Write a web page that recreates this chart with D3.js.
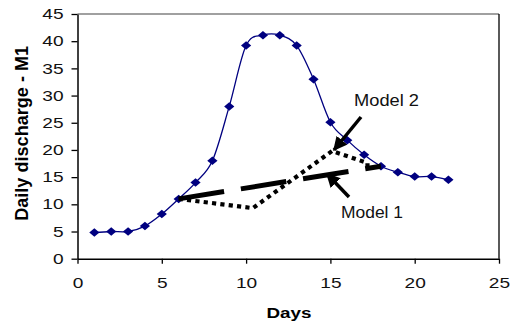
<!DOCTYPE html>
<html lang="en">
<head>
  <meta charset="UTF-8">
  <script src="https://d3js.org/d3.v7.min.js"></script>
  <title>Daily discharge</title>
  <style>
    body { margin: 0; padding: 0; background: #fff; }
    text { font-family: "Liberation Sans", Arial, sans-serif; }
  </style>
</head>
<body>
  <div id="chart"></div>
  <script>
    // observed discharge (M1)
    let days = [1, 2, 3, 4, 5, 6, 7, 8, 9, 10, 11, 12, 13, 14, 15, 16, 17, 18, 19, 20, 21, 22]
    let discharge = [4.8, 5, 5, 6, 8.2, 11, 14, 18, 28, 39.2, 41.1, 41.1, 39.2, 33, 25.1, 21.8, 19.1, 17, 15.9, 15.1, 15.1, 14.5]
    // model lines
    let model1 = [[6, 11], [18, 17]]
    let model2 = [[6, 11], [10.4, 9.3], [15.1, 19.8], [17.2, 17.6], [17.2, 16.3]]
    let xTicks = [0, 5, 10, 15, 20, 25]
    let yTicks = [0, 5, 10, 15, 20, 25, 30, 35, 40, 45]

    let width = 517, height = 329
    let margin = { left: 77.5, right: 18, top: 14, bottom: 70.3 }
    let stretch = 1.32 // the picture's text is a bit wide

    let svg = d3.select("#chart").append("svg")
      .attr("width", width)
      .attr("height", height)

    let x = d3.scaleLinear().domain([0, 25]).range([margin.left, width - margin.right])
    let y = d3.scaleLinear().domain([0, 45]).range([height - margin.bottom, margin.top])

    // plot frame (top grey, right black)
    svg.append("line")
      .attr("x1", x(0)).attr("x2", x(25)).attr("y1", y(45)).attr("y2", y(45))
      .attr("stroke", "#808080").attr("stroke-width", 1.3)
    svg.append("line")
      .attr("x1", x(25)).attr("x2", x(25)).attr("y1", y(45)).attr("y2", y(0))
      .attr("stroke", "#000").attr("stroke-width", 1.3)

    let xAxis = svg.append("g")
      .attr("transform", `translate(0,${y(0)})`)
      .call(d3.axisBottom(x).tickValues(xTicks).tickSize(5).tickPadding(14).tickSizeOuter(0))
    let yAxis = svg.append("g")
      .attr("transform", `translate(${x(0)},0)`)
      .call(d3.axisLeft(y).tickValues(yTicks).tickSize(6).tickPadding(8).tickSizeOuter(0))

    ;[xAxis, yAxis].forEach(g => {
      g.select(".domain").attr("stroke", "#000").attr("stroke-width", 1.5)
      g.selectAll(".tick line").attr("stroke", "#000").attr("stroke-width", 1.3)
      g.selectAll(".tick text")
        .attr("font-size", 14.5)
        .attr("fill", "#111")
        .style("font-family", "'Liberation Sans', Arial, sans-serif")
    })
    // widen tick labels like the original
    xAxis.selectAll(".tick text")
      .attr("transform", `scale(${stretch},1)`)
    yAxis.selectAll(".tick text")
      .attr("x", -14 / stretch)
      .attr("transform", `scale(${stretch},1)`)

    // axis titles
    svg.append("text")
      .attr("x", 289).attr("y", 318)
      .attr("text-anchor", "middle")
      .attr("font-size", 14.5).attr("font-weight", "bold")
      .attr("textLength", 45).attr("lengthAdjust", "spacingAndGlyphs")
      .text("Days")
    svg.append("text")
      .attr("transform", `translate(28,${(y(0) + y(45)) / 2 - 3}) rotate(-90) scale(1,1.15)`)
      .attr("text-anchor", "middle")
      .attr("font-size", 15.5).attr("font-weight", "bold")
      .attr("textLength", 175).attr("lengthAdjust", "spacingAndGlyphs")
      .text("Daily discharge - M1")

    // observed curve
    let obs = days.map((d, i) => [d, discharge[i]])
    let line = d3.line().x(d => x(d[0])).y(d => y(d[1]))
    svg.append("path")
      .datum(obs)
      .attr("fill", "none")
      .attr("stroke", "#000080")
      .attr("stroke-width", 1.3)
      .attr("d", line.curve(d3.curveCardinal.tension(0)))

    svg.selectAll(".pt").data(obs).enter().append("path")
      .attr("class", "pt")
      .attr("d", d3.symbol(d3.symbolDiamond2, 46))
      .attr("transform", d => `translate(${x(d[0])},${y(d[1])}) scale(1.2,1)`)
      .attr("fill", "#000080")

    let straight = d3.line().x(d => x(d[0])).y(d => y(d[1]))

    // Model 1 long dash
    svg.append("path")
      .datum(model1)
      .attr("fill", "none")
      .attr("stroke", "#000")
      .attr("stroke-width", 5)
      .attr("stroke-dasharray", "46,17")
      .attr("d", straight)

    // Model 2 square dots
    svg.append("path")
      .datum(model2)
      .attr("fill", "none")
      .attr("stroke", "#000")
      .attr("stroke-width", 4.2)
      .attr("stroke-dasharray", "4.2,4.2")
      .attr("d", straight)

    // annotations
    let defs = svg.append("defs")
    defs.append("marker")
      .attr("id", "head")
      .attr("viewBox", "0 0 10 10")
      .attr("refX", 9).attr("refY", 5)
      .attr("markerWidth", 4).attr("markerHeight", 4)
      .attr("markerUnits", "strokeWidth")
      .attr("orient", "auto")
      .append("path").attr("d", "M0,0L10,5L0,10Z").attr("fill", "#000")

    let notes = [
      { label: "Model 2", tx: 354, ty: 106, w: 65, from: [361, 117], to: [334, 150] },
      { label: "Model 1", tx: 341, ty: 218, w: 62, from: [349, 197], to: [327, 174] }
    ]
    notes.forEach(n => {
      svg.append("line")
        .attr("x1", n.from[0]).attr("y1", n.from[1])
        .attr("x2", n.to[0]).attr("y2", n.to[1])
        .attr("stroke", "#000").attr("stroke-width", 3.5)
        .attr("marker-end", "url(#head)")
      svg.append("text")
        .attr("x", n.tx).attr("y", n.ty)
        .attr("font-size", 16.5).attr("fill", "#111")
        .attr("textLength", n.w).attr("lengthAdjust", "spacingAndGlyphs")
        .text(n.label)
    })
  </script>
</body>
</html>
